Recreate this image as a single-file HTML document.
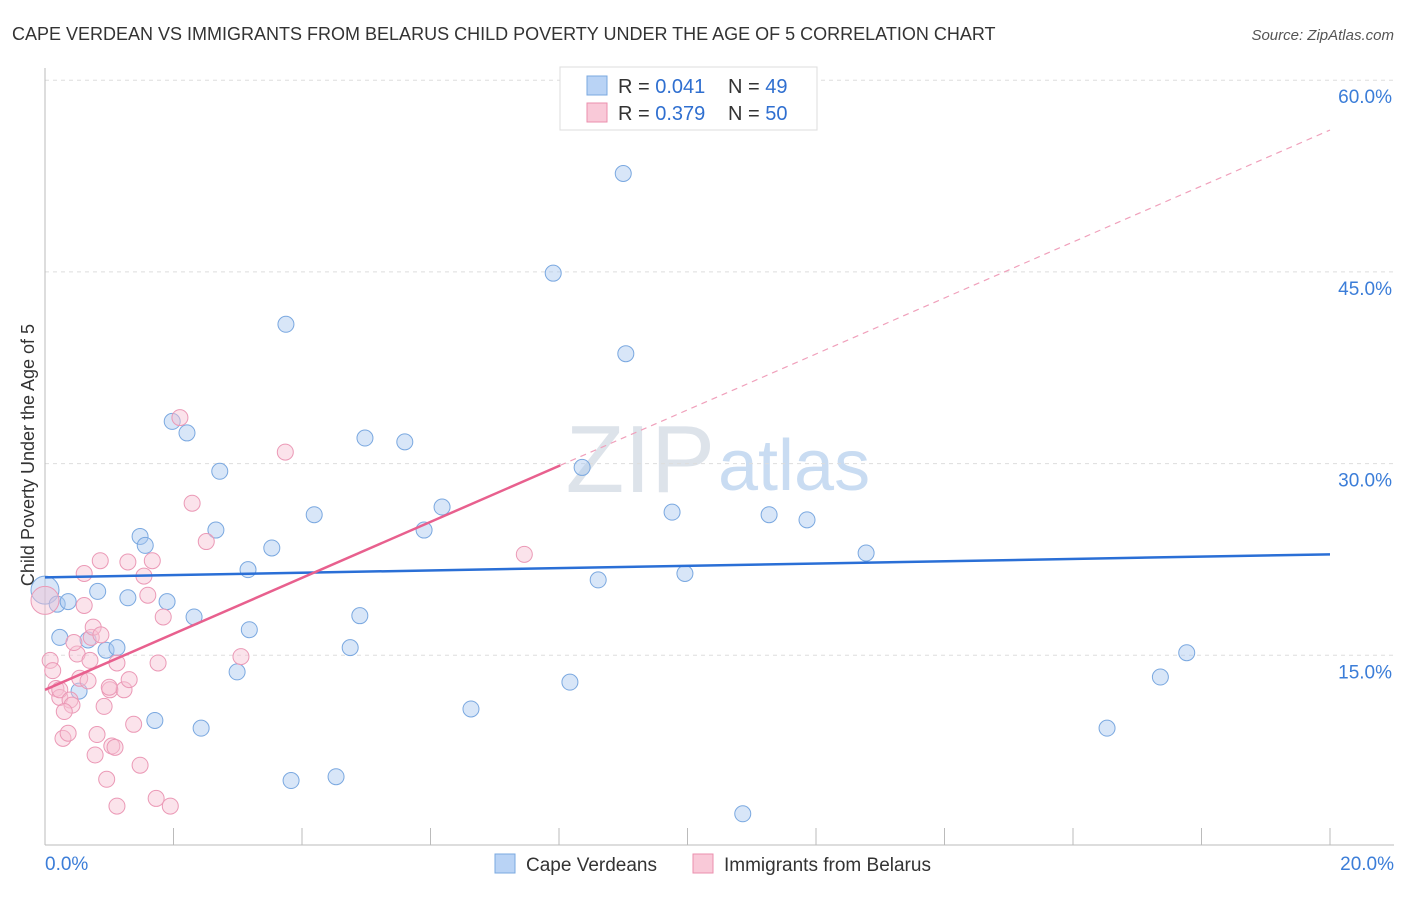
<!DOCTYPE html>
<html><head><meta charset="utf-8"><style>
body{margin:0;background:#fff;font-family:"Liberation Sans",sans-serif;}
svg text{font-family:"Liberation Sans",sans-serif;}
</style></head><body>
<svg width="1406" height="892" id="chart">
<text x="12" y="40" font-size="18" fill="#333">CAPE VERDEAN VS IMMIGRANTS FROM BELARUS CHILD POVERTY UNDER THE AGE OF 5 CORRELATION CHART</text>
<text x="1394" y="40" font-size="15" fill="#555" font-style="italic" text-anchor="end">Source: ZipAtlas.com</text>
<text x="715" y="492" font-size="96" fill="#dde3ea" text-anchor="end" font-family="Liberation Serif">ZIP</text>
<text x="718" y="490" font-size="72" fill="#c9dcf2">atlas</text>
<text transform="translate(34,455) rotate(-90)" font-size="18" fill="#333" text-anchor="middle">Child Poverty Under the Age of 5</text>
<g id="grid"></g><g id="marks"></g>
<g>
<rect x="560" y="67" width="257" height="63" fill="#fff" stroke="#ddd"/>
<rect x="587" y="76" width="20" height="19" fill="#b9d3f5" stroke="#7aa8e0"/>
<rect x="587" y="103" width="20" height="19" fill="#f9c9d8" stroke="#eb8fae"/>
<text x="618" y="93" font-size="20" fill="#333">R = <tspan fill="#2f6fd0">0.041</tspan></text>
<text x="728" y="93" font-size="20" fill="#333">N = <tspan fill="#2f6fd0">49</tspan></text>
<text x="618" y="120" font-size="20" fill="#333">R = <tspan fill="#2f6fd0">0.379</tspan></text>
<text x="728" y="120" font-size="20" fill="#333">N = <tspan fill="#2f6fd0">50</tspan></text>
</g>
<g>
<rect x="495" y="854" width="20" height="19" fill="#b9d3f5" stroke="#7aa8e0"/>
<text x="526" y="871" font-size="19" fill="#333">Cape Verdeans</text>
<rect x="693" y="854" width="20" height="19" fill="#f9c9d8" stroke="#eb8fae"/>
<text x="724" y="871" font-size="19" fill="#333">Immigrants from Belarus</text>
</g>
</svg>
<script>
const blueX=[0,0.19,0.23,0.36,0.67,0.82,0.95,1.12,0.53,1.29,1.48,1.56,1.90,1.71,1.98,2.21,2.32,2.43,2.66,2.72,2.99,3.16,3.18,3.53,3.75,3.83,4.19,4.53,4.75,4.90,4.98,5.60,5.90,6.18,6.63,7.91,8.17,8.36,8.61,9.00,9.04,9.76,9.96,10.86,11.27,11.86,12.78,16.53,17.36,17.77];
const blueY=[20.1,19.0,16.4,19.2,16.2,20.0,15.4,15.6,12.2,19.5,24.3,23.6,19.2,9.9,33.3,32.4,18.0,9.3,24.8,29.4,13.7,21.7,17.0,23.4,40.9,5.2,26.0,5.5,15.6,18.1,32.0,31.7,24.8,26.6,10.8,44.9,12.9,29.7,20.9,52.7,38.6,26.2,21.4,2.6,26.0,25.6,23.0,9.3,13.3,15.2];
const pinkX=[0,0.08,0.12,0.17,0.23,0.28,0.23,0.39,0.42,0.50,0.54,0.61,0.61,0.70,0.72,0.75,0.81,0.78,0.86,0.87,0.92,0.96,1.01,1.04,1.09,1.12,1.12,1.23,1.31,1.29,1.38,1.48,1.54,1.60,1.67,1.73,1.76,1.84,1.95,2.10,2.29,2.51,3.05,3.74,7.46,0.36,0.67,0.45,0.30,1.00];
const pinkY=[19.3,14.6,13.8,12.4,11.7,8.5,12.3,11.5,11.1,15.1,13.2,21.4,18.9,14.6,16.4,17.2,8.8,7.2,22.4,16.6,11.0,5.3,12.3,7.9,7.8,14.4,3.2,12.3,13.1,22.3,9.6,6.4,21.2,19.7,22.4,3.8,14.4,18.0,3.2,33.6,26.9,23.9,14.9,30.9,22.9,8.9,13.0,16.0,10.6,12.5];
const blueFit=[21.1,22.9], pinkFit=[12.3,2.19];
const X=v=>45+v*64.25, Y=v=>847-v*12.78;
const NS="http://www.w3.org/2000/svg";
const grid=document.getElementById('grid'), marks=document.getElementById('marks');
function mk(tag,attrs,parent){const e=document.createElementNS(NS,tag);for(const k in attrs)e.setAttribute(k,attrs[k]);parent.appendChild(e);return e;}
const yTicks=[15,30,45,60];
yTicks.forEach(t=>{
 const l=mk('line',{x1:45,x2:1394,y1:Y(t),y2:Y(t),stroke:'#ddd','stroke-dasharray':'4,4'},grid);
 
 
 const tx=mk('text',{x:1392,y:Y(t)+23,'font-size':19,fill:'#3b7dd8','text-anchor':'end'},grid);
 tx.textContent=t.toFixed(1)+'%';
 
 
});
mk('line',{x1:45,x2:45,y1:68,y2:845,stroke:'#bbb'},grid);
mk('line',{x1:45,x2:1394,y1:845,y2:845,stroke:'#bbb'},grid);
for(let i=0;i<=10;i++){const tk=mk('line',{x1:X(i*2),x2:X(i*2),y1:828,y2:845,stroke:'#bbb'},grid);
 
 }
[[0,'0.0%','start',45],[20,'20.0%','end',1394]].forEach(a=>{const t=mk('text',{x:a[3],y:870,'font-size':19,fill:'#3b7dd8','text-anchor':a[2]},grid);t.textContent=a[1];
 
 });
function dots(xs,ys,fill,stroke,name){xs.forEach((x,i)=>{const c=mk('circle',{cx:X(x),cy:Y(ys[i]),r:i==0?14:8,fill:fill,'fill-opacity':0.45,stroke:stroke,'stroke-width':1},marks);
 
 });}
dots(blueX,blueY,'#a8c8f0','#7aa8e0','cape-verdean-point');
dots(pinkX,pinkY,'#f7c0d2','#eb99b6','belarus-point');
const bl=mk('line',{x1:X(0),y1:Y(blueFit[0]),x2:X(20),y2:Y(blueFit[1]),stroke:'#2a6fd6','stroke-width':2.5},marks);


const ps=mk('line',{x1:X(0),y1:Y(pinkFit[0]),x2:X(8.02),y2:Y(pinkFit[0]+pinkFit[1]*8.02),stroke:'#e8608e','stroke-width':2.5},marks);


const pd=mk('line',{x1:X(8.02),y1:Y(pinkFit[0]+pinkFit[1]*8.02),x2:X(20),y2:Y(pinkFit[0]+pinkFit[1]*20),stroke:'#f0a0bb','stroke-width':1.2,'stroke-dasharray':'6,5'},marks);


</script>
</body></html>
